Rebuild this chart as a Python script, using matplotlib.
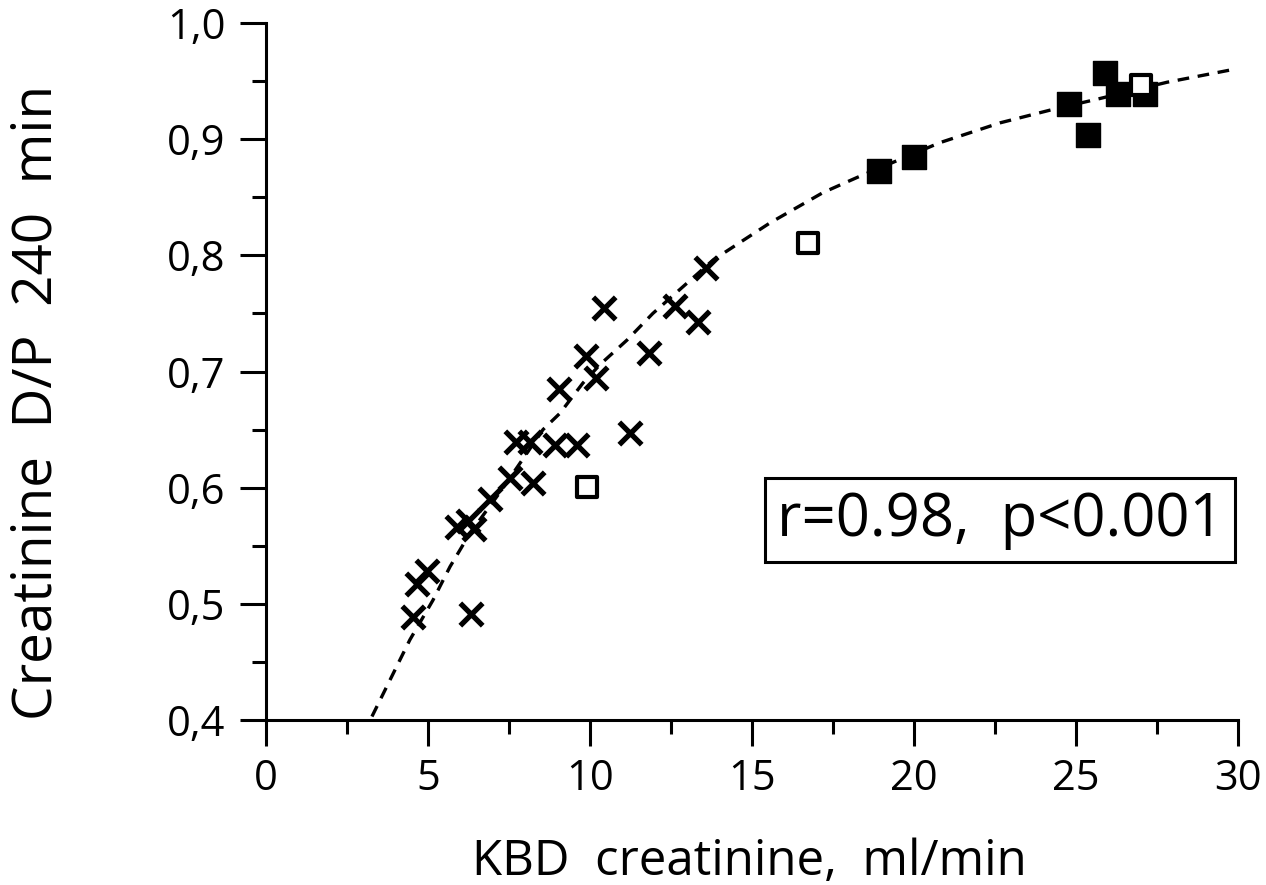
import matplotlib
matplotlib.use("Agg")
import matplotlib.pyplot as plt
from matplotlib.ticker import MultipleLocator, FixedFormatter, FixedLocator

plt.rcParams['font.family'] = ['Open Sans', 'DejaVu Sans']

# Crosses
cross_x = [4.54, 4.66, 4.97, 5.90, 6.23, 6.42, 6.33, 6.91, 7.53, 8.24, 7.72, 8.15,
           8.92, 9.60, 9.04, 9.88, 10.19, 10.43, 11.23, 11.82, 12.62, 13.33, 13.58]
cross_y = [0.489, 0.517, 0.528, 0.566, 0.571, 0.564, 0.491, 0.590, 0.608, 0.604, 0.639, 0.639,
           0.637, 0.637, 0.685, 0.713, 0.694, 0.755, 0.647, 0.716, 0.756, 0.743, 0.789]

# Open squares
open_x = [9.91, 16.73, 27.0]
open_y = [0.601, 0.811, 0.947]

# Filled squares
fill_x = [18.92, 20.0, 24.78, 25.37, 25.9, 26.3, 27.13]
fill_y = [0.873, 0.885, 0.930, 0.904, 0.957, 0.939, 0.939]

# Fitted curve
fit_x = [3.27, 4.44, 5.15, 5.68, 6.30, 7.22, 8.06, 8.55, 9.07, 9.78, 10.31, 11.14, 11.94,
         12.87, 13.80, 15.56, 17.19, 18.24, 20.80, 22.65, 24.20, 25.74, 27.81, 29.85]
fit_y = [0.403, 0.469, 0.503, 0.532, 0.561, 0.596, 0.630, 0.650, 0.664, 0.690, 0.706, 0.727,
         0.750, 0.773, 0.796, 0.828, 0.854, 0.867, 0.897, 0.914, 0.925, 0.935, 0.949, 0.960]

x_ticks = [0, 5, 10, 15, 20, 25, 30]
y_ticks = [0.4, 0.5, 0.6, 0.7, 0.8, 0.9, 1.0]
y_tick_labels = ['0,4', '0,5', '0,6', '0,7', '0,8', '0,9', '1,0']

fig = plt.figure(figsize=(12.66, 8.85), dpi=100)
ax = fig.add_axes([266/1266, 1-720/885, (1238-266)/1266, (720-23)/885])

ax.plot(fit_x, fit_y, color='black', lw=2.4, linestyle=(0, (3.5, 2.6)), zorder=2, clip_on=False)
ax.scatter(cross_x, cross_y, marker='x', s=260, color='black', linewidths=3.8, zorder=3)
ax.scatter(fill_x, fill_y, marker='s', s=300, color='black', zorder=3)
ax.scatter(open_x, open_y, marker='s', s=200, facecolor='white', edgecolor='black', linewidths=3.0, zorder=4)

ax.set_xlim(0, 30)
ax.set_ylim(0.4, 1.0)
for s in ['top', 'right']:
    ax.spines[s].set_visible(False)
for s in ['left', 'bottom']:
    ax.spines[s].set_linewidth(2.2)

ax.xaxis.set_major_locator(FixedLocator(x_ticks))
ax.xaxis.set_minor_locator(MultipleLocator(2.5))
ax.yaxis.set_major_locator(FixedLocator(y_ticks))
ax.yaxis.set_major_formatter(FixedFormatter(y_tick_labels))
ax.yaxis.set_minor_locator(MultipleLocator(0.05))
ax.tick_params(which='major', length=19, width=2.2, labelsize=30, direction='out', color='black')
ax.tick_params(axis='y', which='major', pad=10)
ax.tick_params(axis='x', which='major', pad=8)
ax.tick_params(which='minor', length=10, width=2.2, direction='out')

fig.text(749/1266, 1-875/885, 'KBD  creatinine,  ml/min', fontsize=35.5, ha='center', va='baseline')
fig.text(37/1266, 1-402/885, 'Creatinine  D/P  240  min', fontsize=39.5, ha='center', va='center',
         rotation=90)

ax.text(0.985, 0.287, 'r=0.98,  p<0.001', transform=ax.transAxes, fontsize=43,
        ha='right', va='center',
        bbox=dict(boxstyle='square,pad=0.2', facecolor='white', edgecolor='black', linewidth=2.2))

fig.savefig('out.png', dpi=100)
